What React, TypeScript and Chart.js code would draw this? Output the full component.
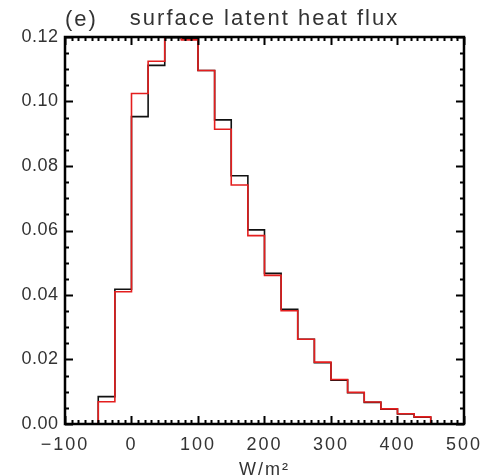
import { useEffect, useRef } from 'react';
import { Chart, registerables } from 'chart.js';

Chart.register(...registerables);

// ---- data ----
const binStarts = [-50, -25, 0, 25, 50, 75, 100, 125, 150, 175, 200, 225, 250, 275, 300, 325, 350, 375, 400, 425];
const binWidth = 25;
const blackFreq = [0.0085, 0.0418, 0.0953, 0.1112, 0.1198, 0.1195, 0.1096, 0.0943, 0.0770, 0.0602, 0.0467, 0.0356, 0.0263, 0.0190, 0.0136, 0.0097, 0.0067, 0.0046, 0.0031, 0.0021];
const redFreq = [0.0069, 0.0410, 0.1025, 0.1125, 0.1200, 0.1191, 0.1096, 0.0914, 0.0741, 0.0584, 0.0461, 0.0351, 0.0263, 0.0192, 0.0138, 0.0098, 0.0068, 0.0047, 0.0032, 0.0022];
const xTickValues = [-100, 0, 100, 200, 300, 400, 500];
const yTickValues = [0, 0.02, 0.04, 0.06, 0.08, 0.1, 0.12];
const titleText = 'surface latent heat flux';
const panelLabel = '(e)';
const xAxisTitle = 'W/m²';

// ---- style ----
const FONT = '"Liberation Sans", Arial, sans-serif';
const TEXT_COLOR = '#333';
const X_MINOR = 10;
const Y_MINOR = 0.005;

function histPoints(starts: number[], values: number[]) {
  const pts: { x: number; y: number }[] = [{ x: starts[0], y: 0 }];
  starts.forEach((s, i) => {
    pts.push({ x: s, y: values[i] });
    pts.push({ x: s + binWidth, y: values[i] });
  });
  pts.push({ x: starts[starts.length - 1] + binWidth, y: 0 });
  return pts;
}

const framePlugin = {
  id: 'idlFrame',
  beforeDraw(chart: any) {
    chart.ctx.letterSpacing = '2px';
  },
  afterDatasetsDraw(chart: any) {
    // y tick labels (z: 1) are drawn after this hook
    chart.ctx.letterSpacing = '0.5px';
  },
  afterDraw(chart: any) {
    const { ctx, chartArea: a, scales } = chart;
    const x = scales.x;
    const y = scales.y;
    ctx.save();
    ctx.letterSpacing = '0px';
    ctx.strokeStyle = '#000';
    ctx.lineWidth = 2;
    ctx.beginPath();
    const xMin = xTickValues[0];
    const xMax = xTickValues[xTickValues.length - 1];
    const nx = Math.round((xMax - xMin) / X_MINOR);
    for (let i = 0; i <= nx; i++) {
      const v = xMin + i * X_MINOR;
      const px = Math.round(x.getPixelForValue(v)) + 0.5;
      const len = i % 10 === 0 ? 8 : 4;
      ctx.moveTo(px, a.bottom);
      ctx.lineTo(px, a.bottom - len);
      ctx.moveTo(px, a.top);
      ctx.lineTo(px, a.top + len);
    }
    const yMax = yTickValues[yTickValues.length - 1];
    const ny = Math.round(yMax / Y_MINOR);
    for (let i = 0; i <= ny; i++) {
      const v = i * Y_MINOR;
      const py = Math.round(y.getPixelForValue(v)) + 0.5;
      const len = i % 4 === 0 ? 8 : 4;
      ctx.moveTo(a.left, py);
      ctx.lineTo(a.left + len, py);
      ctx.moveTo(a.right, py);
      ctx.lineTo(a.right - len, py);
    }
    ctx.stroke();
    ctx.lineWidth = 2.5;
    ctx.strokeRect(a.left, a.top, a.right - a.left, a.bottom - a.top);
    ctx.letterSpacing = '2px';
    ctx.font = '22px ' + FONT;
    ctx.fillStyle = TEXT_COLOR;
    ctx.textAlign = 'left';
    ctx.textBaseline = 'alphabetic';
    ctx.fillText(panelLabel, a.left, 26);
    ctx.restore();
  },
};

export default function App() {
  const ref = useRef<HTMLCanvasElement>(null);
  useEffect(() => {
    if (!ref.current) return;
    const chart = new Chart(ref.current, {
      type: 'line',
      data: {
        datasets: [
          {
            label: 'red',
            data: histPoints(binStarts, redFreq),
            borderColor: 'rgb(228,30,30)',
            borderWidth: 1.6,
            pointRadius: 0,
            tension: 0,
            fill: false,
          },
          {
            label: 'black',
            data: histPoints(binStarts, blackFreq),
            borderColor: '#111',
            borderWidth: 1.6,
            pointRadius: 0,
            tension: 0,
            fill: false,
          },
        ],
      },
      options: {
        responsive: false,
        animation: false,
        events: [],
        layout: { padding: { top: 0, right: 21, bottom: 0, left: 0 } },
        plugins: {
          legend: { display: false },
          tooltip: { enabled: false },
          title: {
            display: true,
            fullSize: false,
            text: titleText,
            color: TEXT_COLOR,
            font: { family: FONT, size: 22, weight: 'normal', lineHeight: 1.2 },
            padding: { top: 6, bottom: 4.6 },
          },
        },
        scales: {
          x: {
            type: 'linear',
            min: xTickValues[0],
            max: xTickValues[xTickValues.length - 1],
            grid: { display: false, drawTicks: false },
            border: { display: false },
            afterBuildTicks: (s: any) => {
              s.ticks = xTickValues.map((v) => ({ value: v }));
            },
            ticks: {
              color: TEXT_COLOR,
              padding: 10,
              maxRotation: 0,
              font: { family: FONT, size: 18 },
              callback: (v: any) => (Number(v) < 0 ? '\u2212' + Math.abs(Number(v)) : String(v)),
            },
            title: {
              display: true,
              text: xAxisTitle,
              color: TEXT_COLOR,
              font: { family: FONT, size: 18 },
              padding: { top: 0, bottom: -5 },
            },
            afterFit: (s: any) => {
              s.height = 52;
            },
          },
          y: {
            type: 'linear',
            min: 0,
            max: yTickValues[yTickValues.length - 1],
            grid: { display: false, drawTicks: false },
            border: { display: false },
            afterBuildTicks: (s: any) => {
              s.ticks = yTickValues.map((v) => ({ value: v }));
            },
            ticks: {
              z: 1,
              color: TEXT_COLOR,
              padding: 6.5,
              font: { family: FONT, size: 18 },
              callback: (v: any) => Number(v).toFixed(2),
            },
            afterFit: (s: any) => {
              s.width = 65;
            },
          },
        },
      },
      plugins: [framePlugin],
    });
    return () => chart.destroy();
  }, []);
  return (
    <div style={{ position: 'fixed', left: 0, top: 0, width: 489, height: 476, background: '#fff' }}>
      <canvas ref={ref} width={489} height={476} style={{ display: 'block' }} />
    </div>
  );
}
